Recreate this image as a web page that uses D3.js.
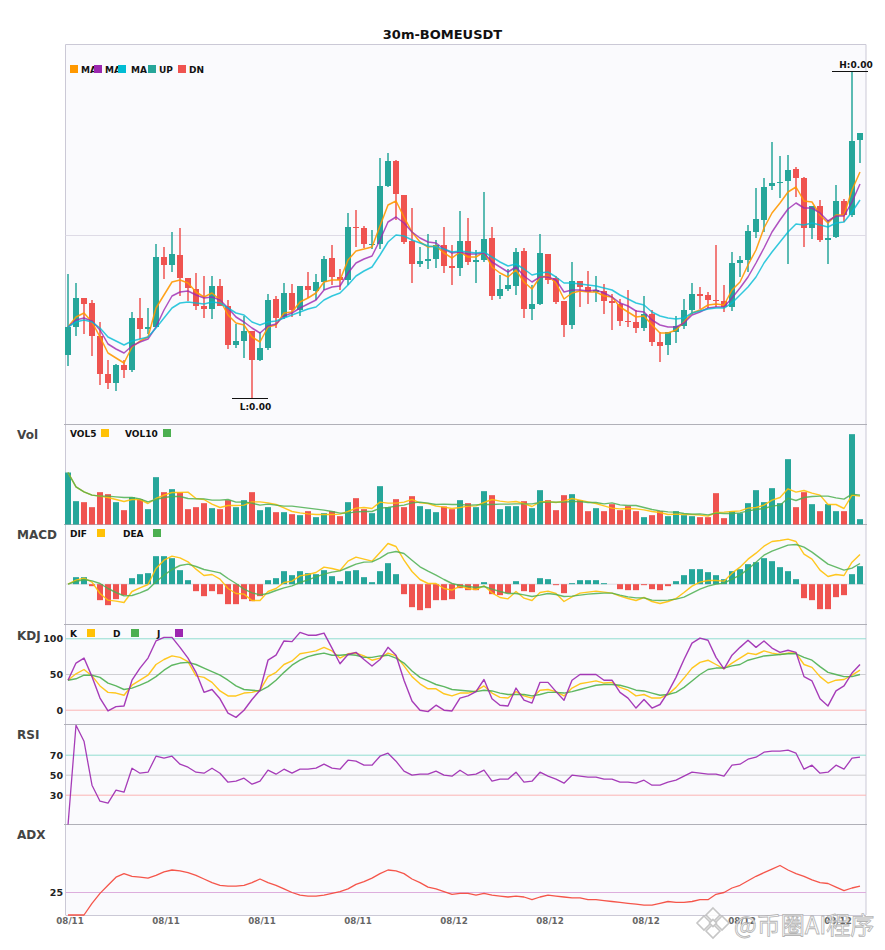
<!DOCTYPE html>
<html>
<head>
<meta charset="utf-8">
<script src="https://cdn.jsdelivr.net/npm/d3@7"></script>
<style>
html,body{margin:0;padding:0;background:#fff}
svg{display:block;font-family:"DejaVu Sans",sans-serif}
</style>
</head>
<body>
<svg id="c" width="885" height="950"></svg>
<script>
const candleOpen=[69,97,126,121,88,50,41,59,54,106,95,97,167,159,169,146,135,118,115,138,118,79,83,93,64,76,125,107,131,114,138,133,142,166,147,144,197,196,179,180,238,263,229,183,160,163,165,179,158,156,183,162,164,186,128,135,138,173,115,120,170,146,123,99,143,137,132,133,123,120,103,102,96,110,82,79,92,98,114,130,129,124,123,117,161,164,192,204,238,241,243,255,246,196,218,184,187,223,209,284];
const candleClose=[97,126,120,88,50,41,59,54,106,95,97,167,159,170,146,136,118,115,138,118,79,83,93,64,76,124,106,131,114,138,134,142,165,147,144,197,196,180,180,238,263,230,182,160,163,165,179,158,156,183,162,164,185,128,135,139,172,115,120,171,144,122,99,143,137,132,134,123,121,103,102,96,110,82,78,92,98,114,130,128,124,123,117,161,164,193,205,237,241,242,254,246,196,218,184,186,223,209,283,291];
const candleHigh=[150,141,126,124,102,64,60,64,112,126,116,180,177,192,196,146,151,148,148,145,124,100,108,93,92,130,128,141,140,138,152,150,168,179,155,211,214,198,194,266,271,264,229,216,177,190,184,197,179,213,206,174,232,197,149,155,176,176,139,190,170,148,123,162,143,153,148,140,130,125,134,114,128,114,92,92,108,125,141,137,132,179,139,172,168,199,236,246,282,268,269,257,247,218,224,204,239,225,353,291];
const candleLow=[58,88,90,68,39,35,33,46,52,85,90,97,145,152,128,123,114,106,105,118,75,76,66,26,63,74,96,105,107,108,126,124,134,139,134,139,177,176,175,175,237,204,180,141,157,155,156,151,139,148,159,141,162,124,125,133,129,106,104,119,140,120,87,95,117,120,122,110,94,98,97,91,93,78,62,69,81,95,110,115,116,117,112,113,147,152,186,192,234,226,160,227,177,185,182,160,186,202,207,261];
const ma5=[97,107,111,102,87,71,66,61,77,83,87,116,129,142,144,141,132,127,131,124,109,101,99,87,82,97,99,111,112,122,126,131,142,144,144,164,173,175,177,198,219,223,207,192,182,177,178,171,166,172,167,167,172,157,151,147,154,142,135,147,148,141,125,131,133,132,132,128,127,117,112,107,108,99,91,91,94,102,111,114,119,120,119,134,142,159,174,196,211,221,232,237,223,222,209,201,209,209,234,252];
const ma10=[97,104,106,103,94,80,75,71,78,82,85,97,114,128,132,133,129,126,127,124,116,107,102,96,91,98,100,108,111,116,120,124,134,137,138,151,161,165,168,184,202,207,201,192,186,182,181,175,171,172,170,170,171,162,157,152,157,148,142,147,147,144,132,134,134,133,134,131,127,121,118,113,112,104,99,97,97,101,109,112,116,117,117,126,136,147,161,176,192,204,215,221,216,216,211,203,208,208,222,240];
const ma20=[97,102,104,102,96,87,83,79,83,85,87,96,106,116,121,122,121,120,122,121,116,111,109,102,99,102,103,106,109,112,115,117,124,128,131,139,148,153,157,169,182,189,188,184,181,178,177,175,172,173,172,171,172,167,162,158,160,155,149,151,152,147,141,141,140,139,138,136,134,129,125,121,119,112,108,106,105,106,111,113,115,116,116,121,129,137,147,161,172,182,192,200,199,201,199,197,201,202,212,224];
const volume=[156,70,67,52,97,91,67,43,82,76,46,142,97,106,97,46,52,64,49,46,73,52,73,97,43,52,37,37,31,28,40,22,34,40,25,67,79,46,34,115,52,76,52,85,55,46,37,54,46,73,64,52,100,88,46,55,55,70,49,103,73,43,88,91,73,40,49,40,61,43,55,40,22,28,40,25,40,28,25,22,22,94,19,40,34,64,103,67,109,64,196,52,97,61,40,61,40,40,271,16];
const vol5=[156,113,98,88,85,81,75,69,75,75,63,78,88,96,96,97,78,75,61,51,57,57,58,68,68,65,60,50,39,35,32,30,30,30,31,39,49,51,48,67,64,64,67,75,65,63,55,52,48,51,55,56,66,75,70,67,69,63,54,68,69,66,70,78,73,68,63,56,49,47,48,47,44,39,36,30,31,30,30,28,25,36,37,39,41,49,51,58,73,81,107,97,102,94,88,60,60,48,88,85];
const vol10=[156,113,98,88,85,85,83,81,81,77,68,75,81,84,84,78,77,77,73,73,75,67,68,64,58,61,58,55,55,52,49,46,43,39,34,34,38,39,39,49,51,55,58,65,67,64,60,61,60,60,58,59,60,60,61,61,62,62,62,66,67,67,67,69,69,66,66,62,65,59,57,57,51,45,41,38,37,33,31,32,29,34,33,33,35,41,45,48,55,58,79,72,81,84,85,85,80,76,91,88];
const macdHist=[0,21,21,-6,-48,-63,-45,-33,18,30,33,84,84,78,42,12,-21,-36,-21,-30,-60,-60,-45,-51,-36,12,18,39,27,39,33,30,42,24,9,39,42,21,6,39,63,30,-30,-69,-78,-72,-48,-48,-45,-12,-18,-18,6,-30,-33,-27,9,-21,-24,18,15,-3,-27,3,12,12,12,3,0,-15,-18,-18,-3,-15,-18,-6,9,27,45,45,36,27,15,39,45,60,66,78,69,51,39,15,-42,-48,-75,-75,-39,-33,30,54];
const dif=[0,12,18,6,-28,-48,-51,-55,-22,-11,-1,47,72,84,79,67,45,26,29,15,-13,-28,-30,-49,-49,-22,-13,5,9,25,29,35,51,47,41,69,81,75,69,95,122,113,72,38,14,2,2,-13,-18,-6,-13,-16,-5,-26,-40,-44,-22,-42,-49,-25,-21,-28,-52,-38,-27,-24,-21,-24,-27,-36,-43,-49,-40,-52,-58,-52,-43,-25,-6,6,11,11,9,33,51,75,93,114,128,131,135,128,90,75,42,23,29,26,66,89];
const dea=[0,8,14,10,2,-13,-25,-35,-34,-26,-16,7,27,44,56,60,53,44,39,34,17,2,-15,-26,-32,-28,-19,-11,-5,5,13,22,30,36,40,50,60,66,67,78,93,98,92,72,52,39,27,14,2,-4,-7,-10,-7,-15,-22,-28,-28,-32,-37,-33,-28,-31,-37,-36,-33,-30,-28,-27,-27,-33,-38,-41,-41,-48,-49,-48,-45,-39,-27,-15,-6,0,3,15,27,45,66,87,99,108,117,119,111,96,78,60,51,42,48,62];
const kLine=[42,51,57,48,34,25,24,21,35,42,49,64,71,76,74,68,48,46,39,27,20,20,24,25,28,47,53,64,69,79,81,83,88,83,73,79,80,76,70,73,80,76,62,47,37,30,30,23,20,24,24,27,34,24,18,17,26,20,17,28,29,26,20,31,37,39,41,38,39,32,28,20,22,17,17,22,32,45,59,67,70,64,58,66,73,80,78,83,80,78,80,80,64,60,47,38,42,43,49,56];
const dLine=[42,44,49,49,46,38,34,29,31,35,40,47,56,63,66,67,64,59,54,49,42,34,29,28,27,33,42,53,63,70,75,78,80,77,77,78,77,74,74,76,77,73,66,55,46,41,36,33,29,28,27,26,28,27,24,22,22,22,20,22,25,25,24,26,29,32,35,36,36,35,32,28,27,24,21,22,25,32,41,50,57,59,59,62,64,70,73,76,77,78,79,79,74,70,61,53,50,47,47,50];
const jLine=[42,66,73,47,17,-1,5,6,42,59,73,97,102,102,88,73,53,25,29,16,-4,-10,0,15,28,70,77,97,96,109,105,105,108,87,65,78,81,71,62,71,88,77,42,13,0,-2,7,0,-1,17,20,26,43,16,7,6,31,14,10,39,39,26,14,42,50,50,50,42,42,25,17,3,15,3,8,25,46,71,94,101,98,74,58,77,88,98,88,97,87,81,84,81,47,41,16,6,27,34,52,64];
const rsi=[0,100,84,40,24,22,35,33,57,52,53,69,67,69,61,58,53,52,57,52,43,44,47,41,44,55,51,56,52,56,56,57,61,57,56,65,64,60,60,69,72,64,54,50,51,51,54,50,49,55,50,51,55,44,46,46,53,43,44,53,49,46,42,50,49,48,48,46,46,43,43,42,45,40,40,43,45,49,53,52,51,51,49,60,61,66,68,73,74,74,75,72,56,60,52,53,60,56,67,68];
const adx=[0,0,0,13,24,33,42,46,43,42,41,44,48,50,49,47,44,40,36,33,32,32,33,36,40,36,33,29,25,22,21,21,22,24,26,29,34,37,41,46,50,49,46,40,36,31,29,26,23,24,24,22,24,22,21,20,21,20,17,20,22,21,20,19,19,17,17,16,15,14,13,12,11,11,13,15,14,14,15,17,17,23,25,30,33,38,43,47,51,55,50,46,43,39,36,35,31,27,30,32];
const xTickIndex=[0,12,24,36,48,60,72,84,96];
const xTickLabels=["08/11","08/11","08/11","08/11","08/12","08/12","08/12","08/12","08/12"];
const mainLegend=[["MA","#FF9800"],["MA","#9C27B0"],["MA","#00BCD4"],["UP","#26A69A"],["DN","#EF5350"]];
const chartTitle="30m-BOMEUSDT";
const highLabel="H:0.00", lowLabel="L:0.00";

const UP="#26A69A",DN="#EF5350",YEL="#FFC107",GRN="#4CAF50",PUR="#9C27B0",ORG="#FF9800",CYA="#00BCD4";
const L=65.5,R=866,W=R-L;
const svg=d3.select("#c");
const idx=d3.range(candleOpen.length);
const x=d3.scaleBand().domain(idx).range([64,864]).paddingInner(.25).paddingOuter(.125);
const cx=i=>x(i)+x.bandwidth()/2;

const panelY={main:[44.5,424.5],vol:[424.5,524.5],macd:[524.5,624.5],kdj:[624.5,724.5],rsi:[724.5,824.5],adx:[824.5,915]};
const yMain=d3.scaleLinear().domain([0,380]).range([424,44]);
const yVol=d3.scaleLinear().domain([0,300]).range([524.5,424.5]);
const yMacd=d3.scaleLinear().domain([-121,179]).range([624.5,524.5]);
const yKdj=d3.scaleLinear().domain([-20,120]).range([724.5,624.5]);
const yRsi=d3.scaleLinear().domain([0,100]).range([825.2,725.2]);
const yAdx=d3.scaleLinear().domain([0,100]).range([915,825]);

svg.append("defs").selectAll("clipPath").data(Object.entries(panelY)).join("clipPath")
  .attr("id",d=>"clip-"+d[0]).append("rect").attr("x",L).attr("y",d=>d[1][0]).attr("width",W).attr("height",d=>d[1][1]-d[1][0]);

// panels
svg.append("rect").attr("x",L).attr("y",44.5).attr("width",W).attr("height",915-44.5).attr("fill","#FAFAFD");
const border="#CBC9D6", sep="#B0B0B8";
svg.append("line").attr("x1",L).attr("x2",L).attr("y1",44.5).attr("y2",915).attr("stroke",border);
svg.append("line").attr("x1",R).attr("x2",R).attr("y1",44.5).attr("y2",915).attr("stroke",border);
svg.append("line").attr("x1",L).attr("x2",R).attr("y1",44.5).attr("y2",44.5).attr("stroke",border);
svg.append("line").attr("x1",L).attr("x2",R).attr("y1",915.5).attr("y2",915.5).attr("stroke",border);
[424.5,524.5,624.5,724.5,824.5].forEach(v=>{
  svg.append("line").attr("x1",L-1.5).attr("x2",R+1).attr("y1",v).attr("y2",v).attr("stroke",sep);
});

// guide lines
function guide(yv,color){svg.append("line").attr("x1",L).attr("x2",R).attr("y1",yv).attr("y2",yv).attr("stroke",color).attr("stroke-width",1);}
guide(235.5,"#DEDBE6");
guide(yMacd(0),"#DDDDE2");
guide(yKdj(100),"#92DDD0");guide(yKdj(50),"#CFCFD3");guide(yKdj(0),"#FBB4B4");
guide(yRsi(70),"#92DDD0");guide(yRsi(50),"#CFCFD3");guide(yRsi(30),"#FBB4B4");
guide(yAdx(25),"#DDAEDD");

// candles
const isUp=i=>candleClose[i]>=candleOpen[i];
const gC=svg.append("g");
gC.selectAll("line").data(idx).join("line")
  .attr("x1",cx).attr("x2",cx)
  .attr("y1",i=>yMain(candleHigh[i])).attr("y2",i=>yMain(candleLow[i]))
  .attr("stroke",i=>isUp(i)?UP:DN).attr("stroke-width",1.5);
gC.selectAll("rect").data(idx).join("rect")
  .attr("x",i=>x(i)).attr("width",x.bandwidth())
  .attr("y",i=>yMain(Math.max(candleOpen[i],candleClose[i])))
  .attr("height",i=>Math.abs(yMain(candleOpen[i])-yMain(candleClose[i])))
  .attr("fill",i=>isUp(i)?UP:DN);

function drawLine(vals,y,color,clip,w=1.5,op=.9){
  const ln=d3.line().x((d,i)=>cx(i)).y(d=>y(d));
  const p=svg.append("path").attr("d",ln(vals)).attr("fill","none").attr("stroke",color)
    .attr("stroke-width",w).attr("stroke-opacity",op).attr("stroke-linejoin","round");
  if(clip)p.attr("clip-path","url(#clip-"+clip+")");
}
drawLine(ma5,yMain,ORG);
drawLine(ma10,yMain,PUR,null,1.5,.8);
drawLine(ma20,yMain,CYA,null,1.5,.8);

// extreme markers
const hiI=d3.maxIndex(candleHigh),loI=d3.minIndex(candleLow);
function marker(i,v,label,dx,dy){
  const X=cx(i),Y=yMain(v)+.5;
  svg.append("line").attr("x1",X-20).attr("x2",X+16).attr("y1",Y).attr("y2",Y).attr("stroke","#111").attr("stroke-width",1);
  svg.append("text").attr("x",X+dx).attr("y",Y+dy).attr("text-anchor","middle").attr("font-size",9).attr("font-weight",700).attr("fill","#111").text(label);
}
marker(hiI,candleHigh[hiI],highLabel,4,-3.5);
marker(loI,candleLow[loI],lowLabel,3.5,11.5);

// volume
svg.append("g").selectAll("rect").data(idx).join("rect")
  .attr("x",i=>x(i)).attr("width",x.bandwidth())
  .attr("y",i=>yVol(volume[i])).attr("height",i=>yVol(0)-yVol(volume[i]))
  .attr("fill",i=>isUp(i)?UP:DN);
drawLine(vol5,yVol,YEL,null,1.4);
drawLine(vol10,yVol,GRN,null,1.4,.85);

// macd
svg.append("g").selectAll("rect").data(idx).join("rect")
  .attr("x",i=>x(i)).attr("width",x.bandwidth())
  .attr("y",i=>yMacd(Math.max(0,macdHist[i]))).attr("height",i=>Math.abs(yMacd(macdHist[i])-yMacd(0)))
  .attr("fill",i=>macdHist[i]>=0?UP:DN);
drawLine(dif,yMacd,YEL,null,1.4);
drawLine(dea,yMacd,GRN,null,1.4,.85);

// kdj
drawLine(kLine,yKdj,YEL,null,1.4);
drawLine(dLine,yKdj,GRN,null,1.4,.9);
drawLine(jLine,yKdj,PUR,null,1.4,.9);

// rsi, adx
drawLine(rsi,yRsi,PUR,"rsi",1.3,.9);
drawLine(adx,yAdx,"#F44336",null,1.3,.9);

// y axes
function yAxis(scale,vals){
  const g=svg.append("g").attr("transform","translate("+L+",0)")
    .call(d3.axisLeft(scale).tickValues(vals).tickSize(0).tickPadding(2.5).tickFormat(d3.format("d")));
  g.select(".domain").remove();
  g.selectAll("text").attr("font-size",9.5).attr("font-weight",700).attr("fill","#222").attr("font-family","DejaVu Sans");
}
yAxis(yKdj,[100,50,0]);
yAxis(yRsi,[70,50,30]);
yAxis(yAdx,[25]);

// x axis
const gx=svg.append("g").attr("transform","translate(2,915)")
  .call(d3.axisBottom(x).tickValues(xTickIndex).tickSize(0).tickPadding(2.5).tickFormat((d,i)=>xTickLabels[i]));
gx.select(".domain").remove();
gx.selectAll("text").attr("font-size",8.7).attr("font-weight",700).attr("fill","#666").attr("font-family","DejaVu Sans");

// title and panel labels
svg.append("text").attr("x",442.5).attr("y",39).attr("text-anchor","middle").attr("font-size",13).attr("font-weight",700).attr("fill","#111").text(chartTitle);
[["Vol",439],["MACD",539],["KDJ",640],["RSI",739],["ADX",839]].forEach(d=>{
  svg.append("text").attr("x",17).attr("y",d[1]).attr("font-size",12).attr("font-weight",700).attr("fill","#444").text(d[0]);
});

// legends
function legText(x0,y0,t){svg.append("text").attr("x",x0).attr("y",y0).attr("font-size",9).attr("font-weight",700).attr("fill","#111").text(t);}
function legBox(x0,y0,c){svg.append("rect").attr("x",x0).attr("y",y0).attr("width",8).attr("height",8).attr("fill",c);}
const ml=[[70,81],[94,105],[118,131],[148,159],[178,189]];
mainLegend.forEach((d,i)=>legText(ml[i][1],72.5,d[0]));
mainLegend.forEach((d,i)=>legBox(ml[i][0],65,d[1]));
legText(70,437,"VOL5");legBox(101,429,YEL);legText(125,437,"VOL10");legBox(163,429,GRN);
legText(70,537,"DIF");legBox(97,529,YEL);legText(123,537,"DEA");legBox(153,529,GRN);
legText(70,637,"K");legBox(87,629,YEL);legText(113,637,"D");legBox(131,629,GRN);legText(157,637,"J");legBox(175,629,PUR);

// watermark
const wm=svg.append("g").attr("opacity",.85);
const dia=(cxx,cyy,r)=>`M${cxx},${cyy-r}L${cxx+r},${cyy}L${cxx},${cyy+r}L${cxx-r},${cyy}Z`;
[[713,915,7],[704,923,7],[722,923,7],[713,931,7],[713,923,3.5]].forEach(d=>{
  wm.append("path").attr("d",dia(d[0],d[1],d[2])).attr("fill","#fff").attr("stroke","#BDBDBD").attr("stroke-width",1.6);
});
wm.append("text").attr("x",734).attr("y",934).attr("font-family","'Noto Sans CJK SC'").attr("font-size",24).attr("fill","#fff").attr("stroke","#A8A8A8").attr("stroke-width",.8).text("@币圈AI程序");
</script>
</body>
</html>
